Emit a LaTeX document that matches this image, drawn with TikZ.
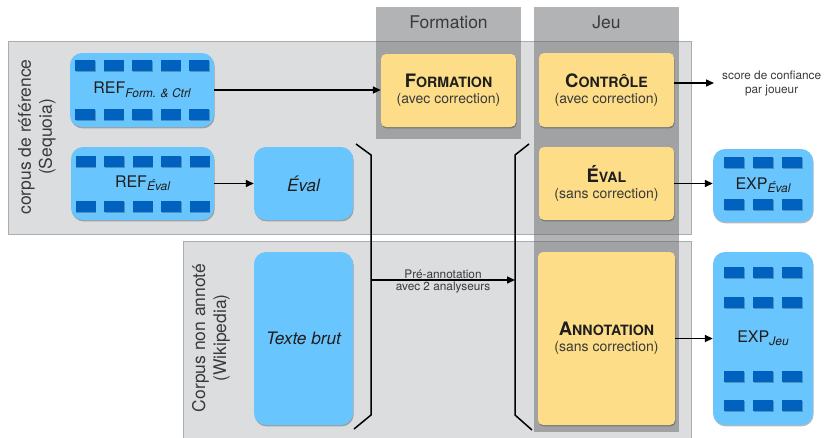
\documentclass[tikz,border=0pt]{standalone}
\usepackage{fontspec}
\setmainfont{TeX Gyre Heros}
\usetikzlibrary{arrows.meta,shadows}
\definecolor{panel}{HTML}{DCDDDF}
\definecolor{panelline}{HTML}{ABACAE}
\definecolor{colgray}{HTML}{666869}
\definecolor{lblue}{HTML}{69C5FD}
\definecolor{dblue}{HTML}{0062BE}
\definecolor{yel}{HTML}{FDDD88}
\definecolor{txt}{HTML}{1E1E1E}
\definecolor{subtxt}{HTML}{3A3A3A}
\newcommand{\fsz}[2]{\fontsize{#1}{#2}\selectfont}
\newcommand{\scap}[2]{{\bfseries\fsz{18.5}{20}#1\fsz{14.2}{20}#2}}
\newcommand{\subi}[1]{\raisebox{-3.5pt}{\fsz{12}{12}\itshape #1}}
\tikzset{
  shad/.style={drop shadow={shadow xshift=0.6pt,shadow yshift=-1.4pt,opacity=0.28,fill=black}},
  bluebox/.style={fill=lblue, rounded corners=12pt, shad, text=txt, font=\fsz{16}{19}, inner sep=0pt},
  yelbox/.style={fill=yel, rounded corners=5pt, shad, text=txt, align=center, inner sep=0pt},
  cell/.style={fill=dblue, drop shadow={shadow xshift=0.5pt,shadow yshift=-1pt,opacity=0.25,fill=black}},
  panelbox/.style={fill=panel, draw=panelline, line width=0.7pt},
  colbox/.style={fill=colgray, fill opacity=0.5},
  arr/.style={line width=1.5pt, -{Triangle[length=8pt,width=7pt]}},
  brk/.style={line width=1.5pt, line join=miter},
  sidelabel/.style={rotate=90, align=center, font=\fsz{17.5}{21}, text=subtxt},
  coltitle/.style={font=\fsz{17.5}{20}, text=subtxt},
  small/.style={font=\fsz{11.8}{14}, text=subtxt, align=center},
}
\begin{document}
\begin{tikzpicture}[x=1pt,y=-1pt]
\useasboundingbox (0,0) rectangle (825,437);
% panels
\path[panelbox] (8,41) rectangle (691,234);
\path[panelbox] (183,241) rectangle (691,445);
% columns
\path[colbox] (376,7) rectangle (521,139);
\path[colbox] (534,7) rectangle (679,432);
\node[coltitle] (tForm) at (448.5,22) {Formation};
\node[coltitle] (tJeu) at (606.5,22) {Jeu};
% side labels
\node[sidelabel] (lRef) at (37,137) {corpus de référence\\(Sequoia)};
\node[sidelabel] (lNon) at (211,338) {Corpus non annoté\\(Wikipedia)};
% blue boxes
\node[bluebox, minimum width=144pt, minimum height=74pt] (refF) at (142,90) {REF\subi{Form. \& Ctrl}};
\node[bluebox, minimum width=143pt, minimum height=73pt] (refE) at (142.5,183.5) {REF\subi{Éval}};
\node[bluebox, minimum width=99pt, minimum height=73pt, font=\fsz{17}{20}\itshape] (evalB) at (303.5,183.5) {Éval};
\node[bluebox, minimum width=99pt, minimum height=173pt, font=\fsz{17.2}{20}\itshape] (texB) at (303.5,338.5) {Texte brut};
\node[bluebox, minimum width=100pt, minimum height=73pt] (expE) at (763,185.5) {EXP\subi{Éval}};
\node[bluebox, minimum width=100pt, minimum height=173pt] (expJ) at (763,338.5) {EXP\subi{Jeu}};
% cells
\foreach \nm/\ys in {refF/{-24.5,24.5}, refE/{-22.5,22.5}} {
  \begin{scope}[shift={(\nm.center)}]
    \foreach \dx in {-57,-28.5,0,28.5,57}
      \foreach \dy in \ys
        \path[cell] (\dx-10,\dy-5.5) rectangle (\dx+10,\dy+5.5);
  \end{scope}
}
\begin{scope}[shift={(expE.center)}]
  \foreach \dx in {-29,0,29}
    \foreach \dy in {-23.5,19}
      \path[cell] (\dx-10,\dy-5.5) rectangle (\dx+10,\dy+5.5);
\end{scope}
\begin{scope}[shift={(expJ.center)}]
  \foreach \dx in {-29,0,29}
    \foreach \dy in {-66,-36,38,67}
      \path[cell] (\dx-10,\dy-5.5) rectangle (\dx+10,\dy+5.5);
\end{scope}
% yellow boxes
\node[yelbox, minimum width=135pt, minimum height=73pt] (formB) at (448.5,90.5)
  {\scap{F}{ORMATION}\\[4pt]{\fsz{14}{16}\color{subtxt}(avec correction)}};
\node[yelbox, minimum width=135pt, minimum height=74pt] (ctrlB) at (606.5,90)
  {\scap{C}{ONTRÔLE}\\[4pt]{\fsz{14}{16}\color{subtxt}(avec correction)}};
\node[yelbox, minimum width=135pt, minimum height=73pt] (evalY) at (606.5,183.5)
  {\scap{É}{VAL}\\[4pt]{\fsz{14}{16}\color{subtxt}(sans correction)}};
\node[yelbox, minimum width=137pt, minimum height=173pt] (annB) at (606.5,338.5)
  {\scap{A}{NNOTATION}\\[4pt]{\fsz{14}{16}\color{subtxt}(sans correction)}};
% score text
\node[small, anchor=west, inner xsep=8pt, inner ysep=0pt] (score) at (714,83) {score de confiance\\par joueur};
% brackets
\draw[brk] (356,144) -- (371,155) -- (371,415) -- (354,429);
\draw[brk] (529,144) -- (515,155) -- (515,415) -- (532,430);
\coordinate (bl) at (371,280);
\coordinate (br) at (515,280);
% arrows
\draw[arr] (refF.east) -- (refF.east -| formB.west);
\draw[arr] (refE.east) -- (evalB.west);
\draw[arr] (ctrlB.east |- score.west) -- (score.west);
\draw[arr] (evalY.east) -- (evalY.east -| expE.west);
\draw[arr] (annB.east) -- (annB.east -| expJ.west);
\draw[arr] (bl) -- node[small, above, inner sep=1pt] (preA) {Pré-annotation}
  node[small, below, inner sep=1.5pt] (preB) {avec 2 analyseurs} (br);
\end{tikzpicture}
\end{document}
